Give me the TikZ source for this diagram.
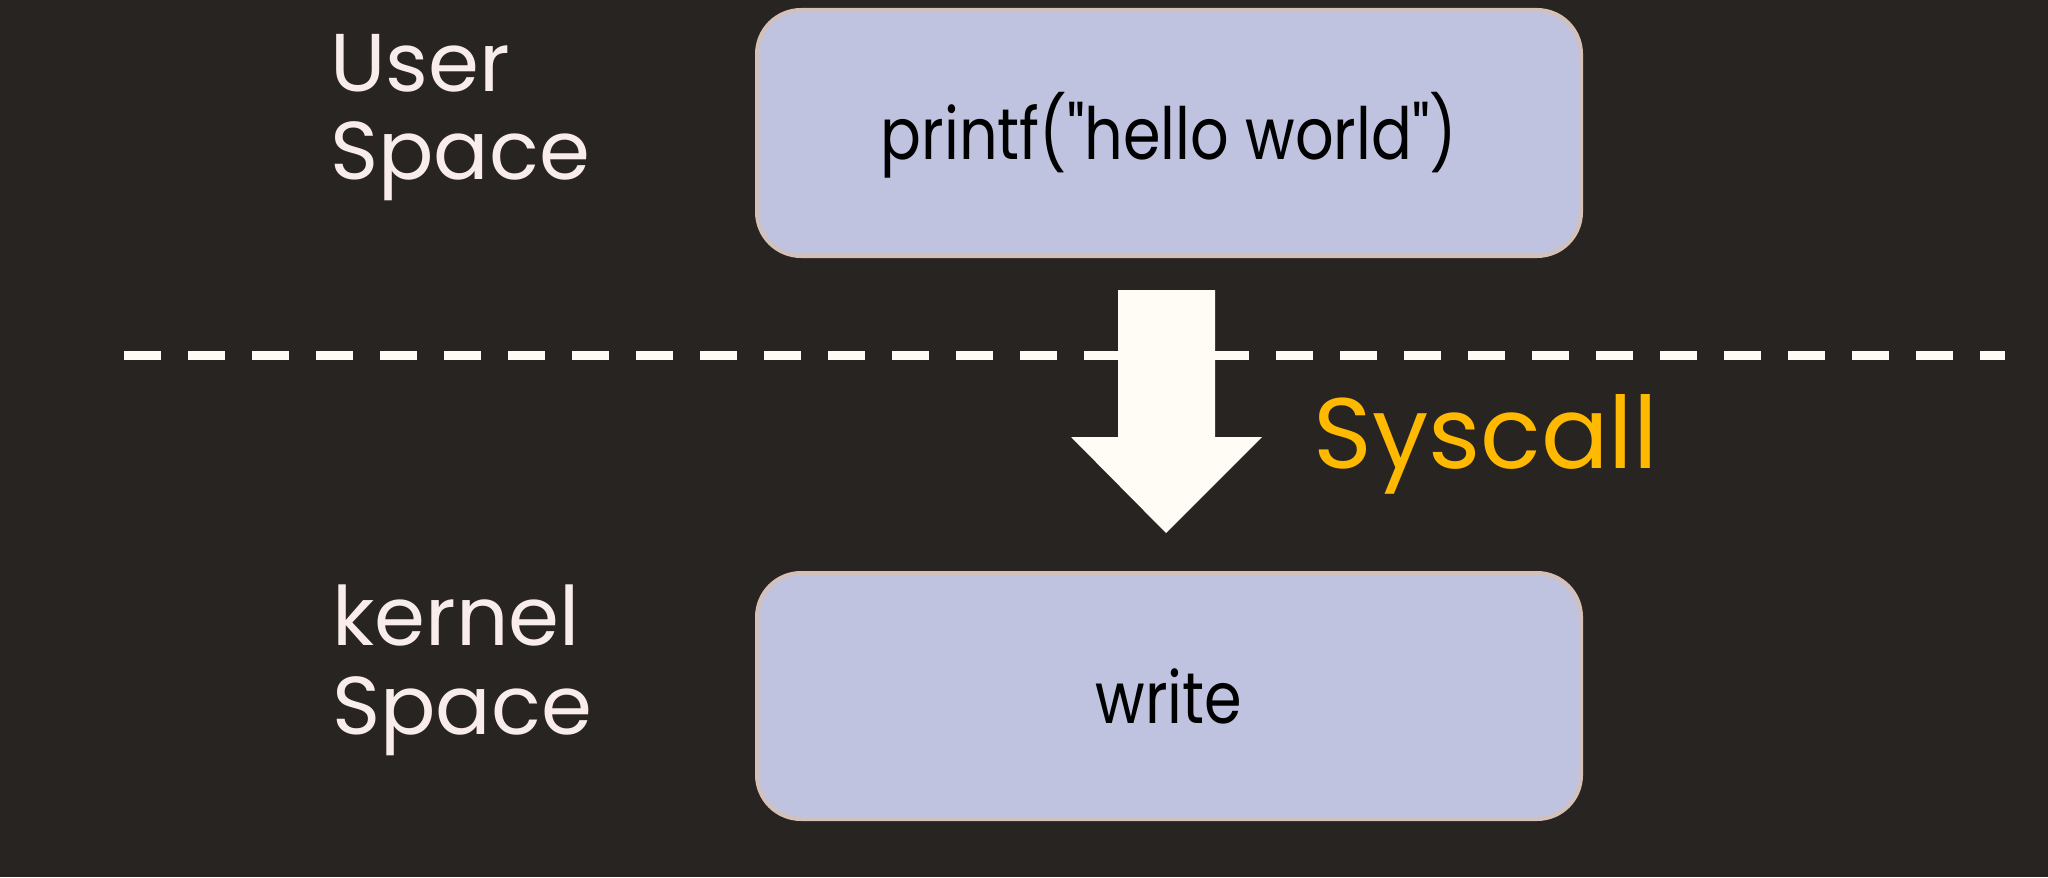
\documentclass[tikz,border=0pt]{standalone}
\usepackage{fontspec}
\setmainfont{Poppins}
\newfontfamily\codefont[FakeStretch=0.84]{Poppins}
\usepackage{tikz}
\usetikzlibrary{positioning}
\definecolor{mBack}{HTML}{282422}
\definecolor{mBox}{HTML}{C0C3E0}
\definecolor{mEdge}{HTML}{D2C0B9}
\definecolor{mLabel}{HTML}{F8EDEA}
\definecolor{mWhite}{HTML}{FFFCF6}
\definecolor{mYellow}{HTML}{FFB900}

\begin{document}
\begin{tikzpicture}[x=0.5pt, y=-0.5pt,
  space/.style={font=\fontsize{41}{44}\selectfont, text=mLabel, anchor=base west,
                inner sep=0pt},
  callbox/.style={draw=mEdge, fill=mBox, line width=2pt, rounded corners=22pt,
                  minimum width=412pt, minimum height=123pt,
                  text height=31pt, text depth=4pt,
                  font=\codefont\fontsize{36}{40}\selectfont, text=black},
]
  % background, also fixes the margins
  \fill[mBack] (0,0) rectangle (2048,877);

  % user / kernel boundary
  \coordinate (line start) at (124,355);
  \coordinate (line end) at (2005,355);
  \draw[mWhite, line width=4.5pt, dash pattern=on 18.5pt off 13.5pt]
    (line start) -- (line end);

  \node[space] (user) at (330,92) {User};
  \node[space] (user space) at (330,180) {Space};
  \node[space] (kernel) at (332,645) {kernel};
  \node[space] (kernel space) at (332,734) {Space};

  \node[callbox] (printf) at (1169,133) {printf("hello world")};
  \node[callbox] (write) at (1169,696) {write};

  % the syscall arrow
  \fill[mWhite] (1118,290) -- (1215,290) -- (1215,437) -- (1262,437)
    -- (1166,533) -- (1071,437) -- (1118,437) -- cycle;
  \node[font=\fontsize{50}{54}\selectfont, text=mYellow, anchor=base west,
        inner sep=0pt] (syscall) at (1313,468) {Syscall};
\end{tikzpicture}
\end{document}
